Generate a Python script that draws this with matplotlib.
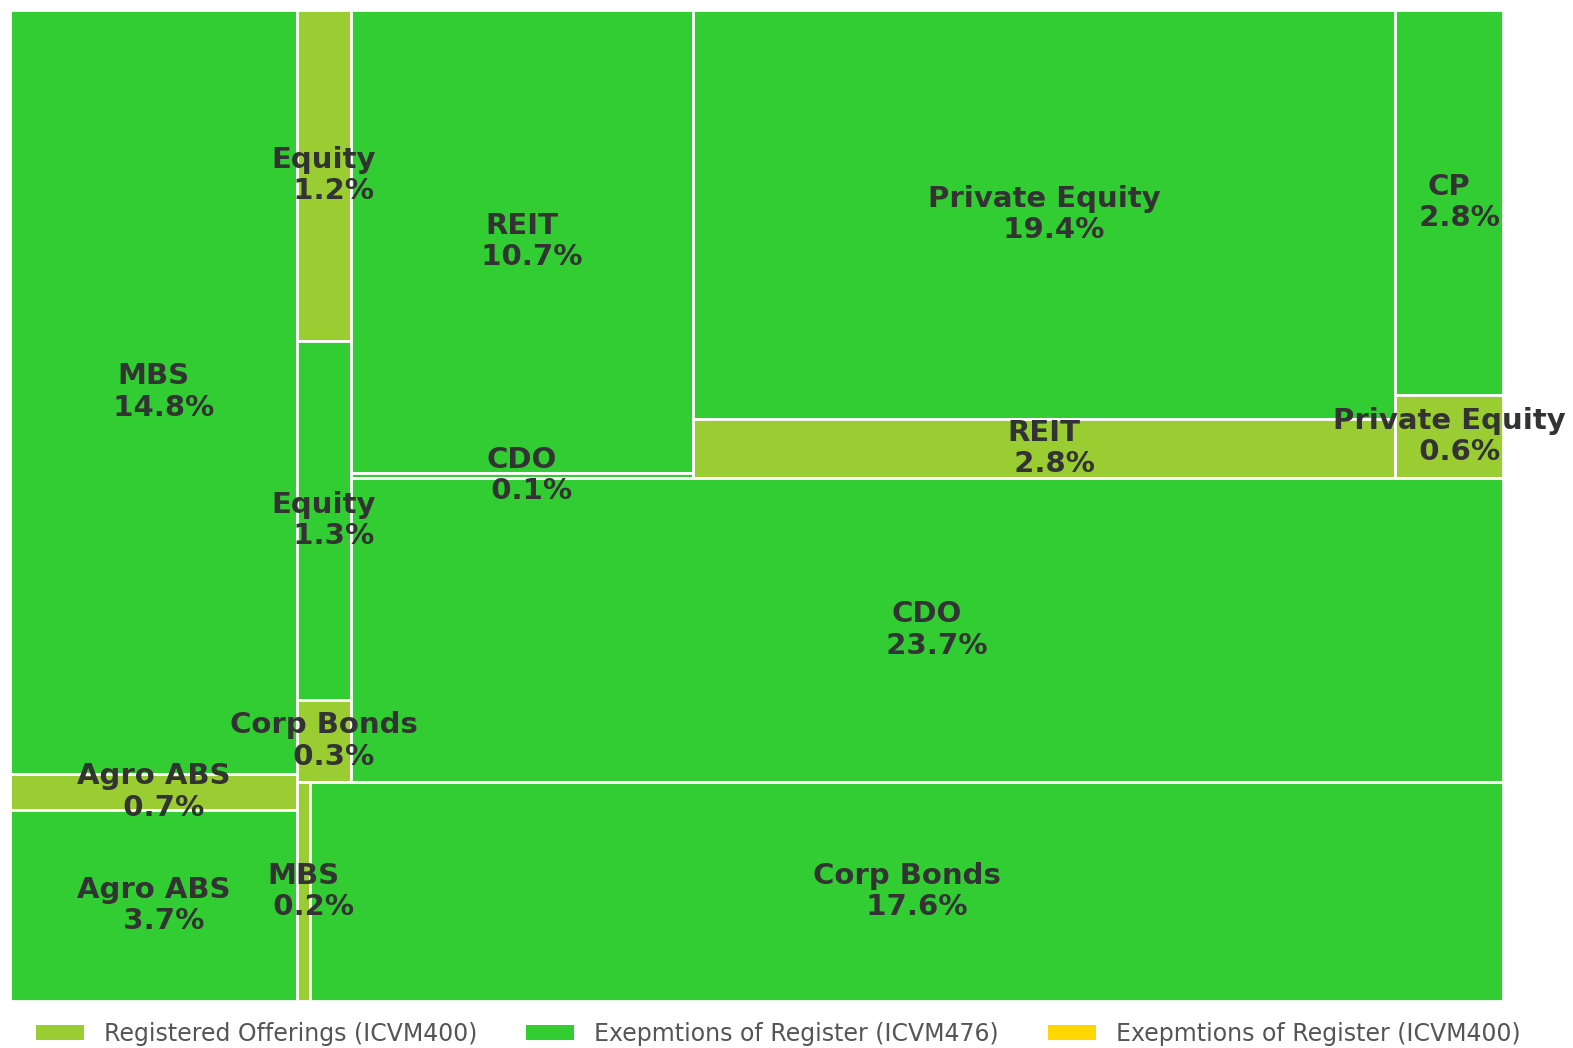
import matplotlib
matplotlib.use("Agg")
import matplotlib.pyplot as plt
from matplotlib.patches import Rectangle, Patch

# data: share of issuance by product and offering type
names = ["MBS", "Agro ABS", "Agro ABS",
         "MBS", "Corp Bonds",
         "Equity", "Equity", "Corp Bonds",
         "REIT", "CDO", "Private Equity", "REIT", "CP", "Private Equity",
         "CDO"]
shares = [14.8, 0.7, 3.7,
          0.2, 17.6,
          1.2, 1.3, 0.3,
          10.7, 0.1, 19.4, 2.8, 2.8, 0.6,
          23.7]
kinds = ["476", "reg", "476",
         "reg", "476",
         "reg", "476", "reg",
         "476", "476", "476", "reg", "476", "reg",
         "476"]

legend_labels = ["Registered Offerings (ICVM400)",
                 "Exepmtions of Register (ICVM476)",
                 "Exepmtions of Register (ICVM400)"]
colors = {"reg": "#9ACD32", "476": "#32CD32", "400": "#FFD700"}

# nesting of the treemap: ('h', ...) splits side by side, ('v', ...) stacks
layout = ("h",
          ("v", 0, 1, 2),
          ("v",
           ("h",
            ("v", 5, 6, 7),
            ("v",
             ("h", ("v", 8, 9), ("v", 10, 11), ("v", 12, 13)),
             14)),
           ("h", 3, 4)))


def total(node):
    if isinstance(node, int):
        return shares[node]
    return sum(total(c) for c in node[1:])


def place(node, x, y, w, h, out):
    if isinstance(node, int):
        out.append((node, x, y, w, h))
        return
    s = total(node)
    pos = 0.0
    for c in node[1:]:
        f = total(c) / s
        if node[0] == "h":
            place(c, x + pos * w, y, w * f, h, out)
        else:
            place(c, x, y + pos * h, w, h * f, out)
        pos += f


rects = []
place(layout, 0, 0, 1, 1, rects)

fig = plt.figure(figsize=(15.73, 10.48), dpi=100)
ax = fig.add_axes([10 / 1573, 1 - 1001 / 1048, 1493 / 1573, 991 / 1048])
ax.set_xlim(0, 1)
ax.set_ylim(1, 0)
ax.axis("off")

for i, x, y, w, h in rects:
    ax.add_patch(Rectangle((x, y), w, h, facecolor=colors[kinds[i]],
                           edgecolor="white", lw=2))
for i, x, y, w, h in rects:
    ax.text(x + w / 2, y + h / 2, f"{names[i]}\n  {shares[i]:.1f}%",
            ha="center", va="center", multialignment="center",
            fontsize=21, fontweight="bold", color="#333333",
            linespacing=1.15, clip_on=False)

handles = [Patch(facecolor=colors[k], edgecolor="none") for k in ["reg", "476", "400"]]
fig.legend(handles, legend_labels, ncol=3, loc="center",
           bbox_to_anchor=(778 / 1573, 1 - 1034 / 1048), frameon=False,
           fontsize=17, labelcolor="#555555", handlelength=2.03,
           handleheight=0.59, handletextpad=0.85, columnspacing=2.08,
           borderpad=0)

fig.savefig("out.png", dpi=100)
